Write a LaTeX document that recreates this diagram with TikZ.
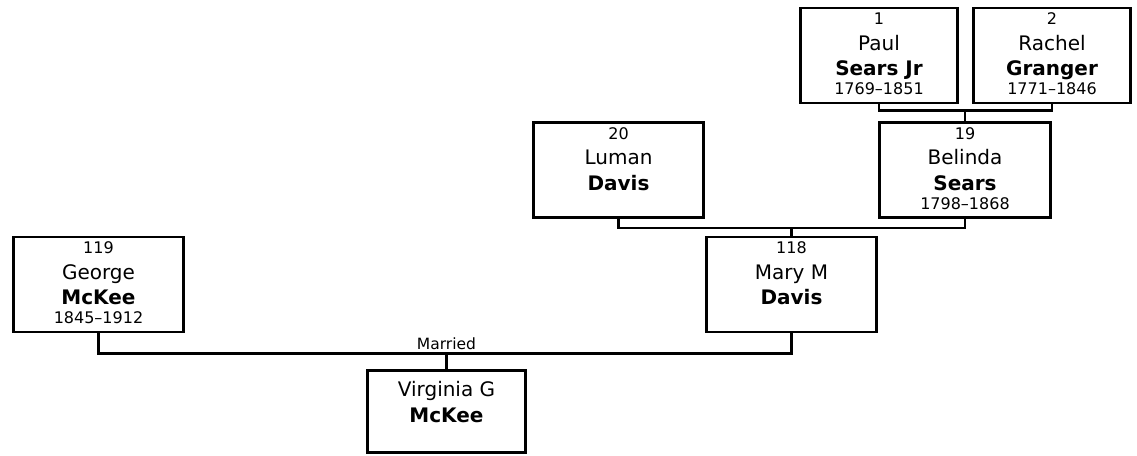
\documentclass[tikz,border=0pt]{standalone}
\usepackage{fontspec}
\setmainfont{DejaVu Sans}
\usetikzlibrary{positioning}

\newcommand{\namefont}{\fontsize{20pt}{25.5pt}\selectfont}
\newcommand{\person}[4]{#1\\{\namefont #2}\\{\namefont\bfseries #3}\\[-6.5pt]#4\rule[-3pt]{0pt}{3pt}}

\begin{document}
\begin{tikzpicture}[
            x=1pt, y=-1pt,
            person/.style={rectangle, draw, line width=2.7pt, inner sep=0pt,
                       minimum width=170.5pt, minimum height=95pt, align=center,
                       font={\fontsize{16pt}{25.5pt}\selectfont}},
            narrow/.style={minimum width=157.5pt},
            link/.style={line width=2.7pt},
            married/.style={anchor=south, inner sep=3pt,
                       font={\fontsize{15.5pt}{18pt}\selectfont}}
        ]
            \useasboundingbox (0,0) rectangle (1137,455);

            % Grandparents of Belinda
            \node[person, narrow] (paul) at (879,55.5) {\person{1}{Paul}{Sears Jr}{1769--1851}};
            \node[person, narrow] (rachel) at (1052,55.5) {\person{2}{Rachel}{Granger}{1771--1846}};

            % Parents of Mary
            \node[person] (luman) at (618.5,170) {\person{20}{Luman}{Davis}{}};
            \node[person] (belinda) at (965,170) {\person{19}{Belinda}{Sears}{1798--1868}};

            % Couple
            \node[person] (george) at (98.5,284.5) {\person{119}{George}{McKee}{1845--1912}};
            \node[person] (mary) at (791.5,284.5) {\person{118}{Mary M}{Davis}{}};

            % Child
            \node[person, narrow, minimum height=82.5pt] (virginia) at (446.5,411.5)
                {{\namefont Virginia G}\\{\namefont\bfseries McKee}\\[-6.5pt]\mbox{}};

            % Family lines
            \draw[link] (paul.south) -- ++(0,6) coordinate (pr) -| (rachel.south);
            \draw[link] (belinda.north) -- (belinda.north |- pr);
            \draw[link] (luman.south) -- ++(0,9) coordinate (lb) -| (belinda.south);
            \draw[link] (mary.north) -- (mary.north |- lb);
            \draw[link] (george.south) -- ++(0,20) coordinate (gm) -| (mary.south);
            \draw[link] (virginia.north) -- (virginia.north |- gm);

            % Marriage label
            \node[married] (wed) at (virginia.north |- gm) {Married};
        \end{tikzpicture}
\end{document}
